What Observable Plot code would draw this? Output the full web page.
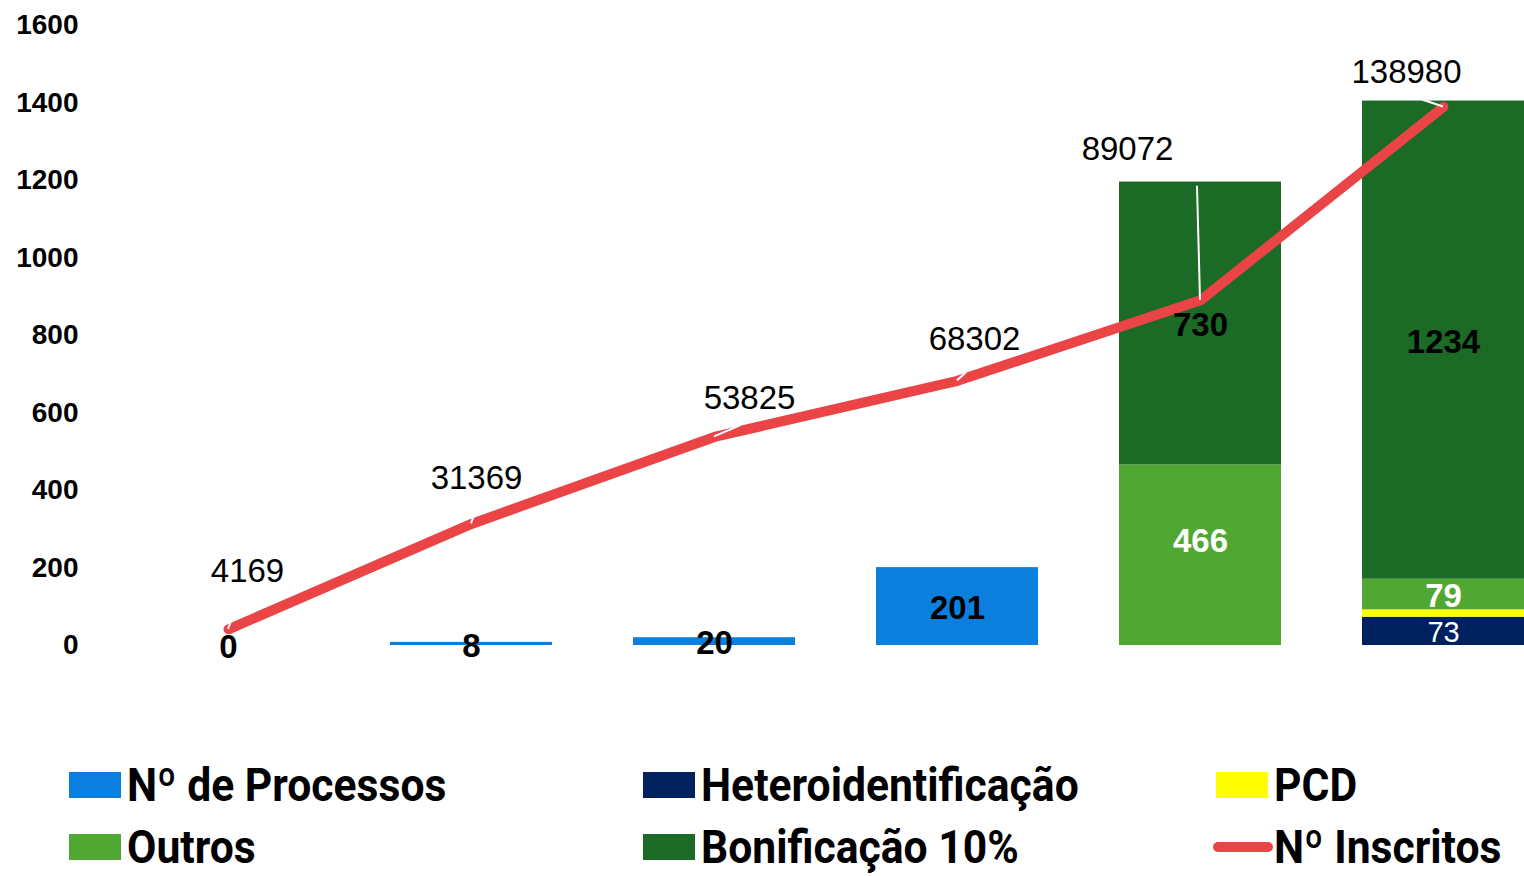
<!DOCTYPE html>
<html>
<head>
<meta charset="utf-8">
<script src="https://cdn.jsdelivr.net/npm/d3@7"></script>
<script src="https://cdn.jsdelivr.net/npm/@observablehq/plot@0.6"></script>
<style>
  html, body { margin: 0; padding: 0; background: #fff; overflow: hidden; }
  #wrap { position: relative; width: 1524px; height: 876px; overflow: hidden; }
  #chart svg { overflow: hidden; }
  .leg { position: absolute; display: flex; align-items: center; height: 46px;
         font-family: Roboto, "Liberation Sans", sans-serif;
         font-weight: bold; font-size: 47px; color: #000; white-space: nowrap; }
  .leg .tx { display: inline-block; transform-origin: 0 50%; line-height: 40px; }
  .sw { width: 52px; height: 26px; margin-right: 6px; flex: none; }
  .swl { width: 60px; height: 10px; border-radius: 5px; margin-right: 1px; margin-left: -3px; flex: none; }
</style>
</head>
<body>
<div id="wrap">
  <div id="chart"></div>
  <div id="legend"></div>
</div>
<script>
// ---- data ----
const categories = ["1", "2", "3", "4", "5", "6"];
const series = ["Nº de Processos", "Heteroidentificação", "PCD", "Outros", "Bonificação 10%"];
const processos = [0, 8, 20, 201, null, null];
const heteroidentificacao = [null, null, null, null, null, 73];
const pcd = [null, null, null, null, null, 19];
const outros = [null, null, null, null, 466, 79];
const bonificacao = [null, null, null, null, 730, 1234];
const inscritos = [4169, 31369, 53825, 68302, 89072, 138980];
const yTicks = [0, 200, 400, 600, 800, 1000, 1200, 1400, 1600];
const lineName = "Nº Inscritos";

// ---- styling ----
const colors = ["#0a7fdd", "#00205e", "#ffff00", "#50a832", "#1b6a25"];
const lineColor = "#ea4446";
const inscritosScale = 100; // secondary axis 0..160000 aligned with 0..1600

const seriesValues = [processos, heteroidentificacao, pcd, outros, bonificacao];
const rows = [];
categories.forEach((c, i) => {
  let base = 0;
  series.forEach((s, k) => {
    const v = seriesValues[k][i];
    if (v == null) return;
    rows.push({cat: c, series: s, value: v, y1: base, y2: base + v, mid: base + v / 2});
    base += v;
  });
});
const lineData = categories.map((c, i) => ({cat: c, v: inscritos[i] / inscritosScale, label: String(inscritos[i])}));

const labelRows = rows.filter(d => d.series !== "PCD");
const whiteSeries = new Set(["Outros", "Heteroidentificação"]);
// the "466" label sits a little above its segment's centre in the source
const raised = d => d.series === "Outros" && d.value > 200;
const boldLabels = labelRows.filter(d => d.series !== "Heteroidentificação" && !raised(d));
const raisedLabels = labelRows.filter(raised);
const regLabels = labelRows.filter(d => d.series === "Heteroidentificação");

// manual label placement (pixels) for the line value labels, like the source
const lineLabelOffsets = [[19, -58], [5, -46], [35, -38], [17, -41], [-73, -151], [-37, -35]];
const leaderOffsets = [[3, -8], [3, -8], [26, -11], [9, -8], [-3, -114], [-21, -7]];

const numFont = "'Liberation Sans', Arial, sans-serif";
const labelFill = d => whiteSeries.has(d.series) ? "#fff" : "#000";

const chart = Plot.plot({
  width: 1524,
  height: 700,
  marginTop: 25,
  marginBottom: 55,
  marginLeft: 80,
  marginRight: 0,
  style: {fontFamily: numFont, background: "transparent"},
  x: {domain: categories, range: [106.5, 1564.5], paddingInner: 1 / 3, paddingOuter: 1 / 6, align: 0.5, axis: null},
  y: {domain: [0, 1600]},
  color: {domain: series, range: colors},
  marks: [
    Plot.axisY({ticks: yTicks, tickSize: 0, tickPadding: 2, label: null, fontSize: 28, fontWeight: "bold", fill: "#000", tickFormat: d => String(d)}),
    Plot.rectY(rows, {x: "cat", y1: "y1", y2: "y2", fill: "series"}),
    Plot.line(lineData, {x: "cat", y: "v", stroke: lineColor, strokeWidth: 10, strokeLinecap: "round", strokeLinejoin: "round"}),
    Plot.text(boldLabels, {x: "cat", y: "mid", text: d => String(d.value), fill: labelFill, fontSize: 33, fontWeight: "bold", dy: 2}),
    Plot.text(raisedLabels, {x: "cat", y: "mid", text: d => String(d.value), fill: labelFill, fontSize: 33, fontWeight: "bold", dy: -14}),
    Plot.text(regLabels, {x: "cat", y: "mid", text: d => String(d.value), fill: "#fff", fontSize: 29, dy: 1}),
    ...lineData.map((d, i) => Plot.text([d], {x: "cat", y: "v", text: "label", fill: "#000", fontSize: 33,
      dx: lineLabelOffsets[i][0], dy: lineLabelOffsets[i][1]}))
  ]
});
document.getElementById("chart").appendChild(chart);

// leader lines from each point toward its label, positioned with Plot's scales
const xs = chart.scale("x"), ys = chart.scale("y");
const svg = d3.select(chart);
const leaders = svg.append("g").attr("stroke", "#fff").attr("stroke-width", 2);
lineData.forEach((d, i) => {
  const px = xs.apply(d.cat) + xs.bandwidth / 2;
  const py = ys.apply(d.v);
  leaders.append("line").attr("x1", px).attr("y1", py)
    .attr("x2", px + leaderOffsets[i][0]).attr("y2", py + leaderOffsets[i][1]);
});
svg.selectAll("g[aria-label=text]").raise();

// ---- legend ----
const legend = document.getElementById("legend");
const legendItems = [
  {name: series[0], color: colors[0], left: 69, top: 762},
  {name: series[1], color: colors[1], left: 643, top: 762},
  {name: series[2], color: colors[2], left: 1216, top: 762},
  {name: series[3], color: colors[3], left: 69, top: 824},
  {name: series[4], color: colors[4], left: 643, top: 824},
  {name: lineName, color: lineColor, left: 1216, top: 824, line: true}
];
const texts = [];
legendItems.forEach(it => {
  const div = document.createElement("div");
  div.className = "leg";
  div.style.left = it.left + "px";
  div.style.top = it.top + "px";
  const sw = document.createElement("span");
  sw.className = it.line ? "swl" : "sw";
  sw.style.background = it.color;
  const tx = document.createElement("span");
  tx.className = "tx";
  tx.textContent = it.name;
  div.appendChild(sw);
  div.appendChild(tx);
  legend.appendChild(div);
  texts.push(tx);
});
// condensed look: one uniform horizontal squeeze so the entries span about what they span in the source
const targetSpan = 311 + 381 + 83 + 128 + 330 + 221;
const naturalSpan = d3.sum(texts, t => t.getBoundingClientRect().width);
const squeeze = targetSpan / naturalSpan;
texts.forEach(t => { t.style.transform = `scaleX(${squeeze})`; });
</script>
</body>
</html>
